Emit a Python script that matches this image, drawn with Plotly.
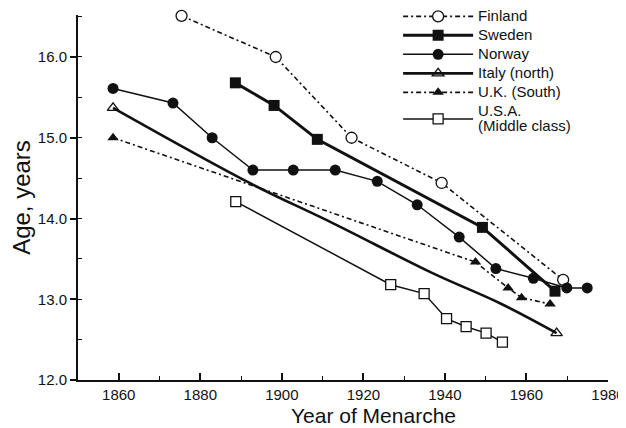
import plotly.graph_objects as go

# ---- data ----
finland_year = [1875.4, 1898.5, 1917.1, 1939.2, 1969.0]
finland_age = [16.51, 16.00, 15.00, 14.44, 13.24]

sweden_year = [1888.6, 1898.1, 1908.7, 1949.2, 1967.0]
sweden_age = [15.68, 15.40, 14.98, 13.89, 13.10]

norway_year = [1858.6, 1873.3, 1882.9, 1892.9, 1902.8, 1913.1, 1923.4,
               1933.2, 1943.5, 1952.5, 1961.7, 1969.9, 1974.9]
norway_age = [15.61, 15.43, 15.00, 14.60, 14.60, 14.60, 14.46,
              14.17, 13.77, 13.38, 13.26, 13.14, 13.14]

# Italy: trend curve; markers only at the two end observations
italy_year = [1858.6, 1892.1, 1912.6, 1937.1, 1953.5, 1967.4]
italy_age = [15.37, 14.44, 13.94, 13.32, 12.95, 12.58]
italy_marked = [True, False, False, False, False, True]

uk_year = [1858.6, 1947.5, 1955.5, 1958.8, 1965.8]
uk_age = [15.00, 13.46, 13.14, 13.02, 12.94]

usa_year = [1888.7, 1926.7, 1934.9, 1940.4, 1945.2, 1950.1, 1954.1]
usa_age = [14.21, 13.18, 13.07, 12.76, 12.66, 12.58, 12.47]

series_names = ["Finland", "Sweden", "Norway", "Italy (north)", "U.K. (South)",
                "U.S.A.<br>(Middle class)"]

x_ticks = [1860, 1880, 1900, 1920, 1940, 1960, 1980]
y_ticks = [12.0, 13.0, 14.0, 15.0, 16.0]

x_title = "Year of Menarche"
y_title = "Age, years"

FONT = "Liberation Sans, Arial, Helvetica, sans-serif"
BLACK = "#111111"


def legend_label(name):
    return "<br>".join('<span style="font-size:15px">%s</span>' % part
                       for part in name.split("<br>"))


fig = go.Figure()

fig.add_trace(go.Scatter(
    x=finland_year, y=finland_age, name=legend_label(series_names[0]),
    mode="lines+markers",
    line=dict(color=BLACK, width=1.6, dash="5px,3px,2px,3px"),
    marker=dict(symbol="circle", size=11, color="white",
                line=dict(color=BLACK, width=1.3)),
    cliponaxis=False))

fig.add_trace(go.Scatter(
    x=sweden_year, y=sweden_age, name=legend_label(series_names[1]),
    mode="lines+markers",
    line=dict(color=BLACK, width=3),
    marker=dict(symbol="square", size=11, color=BLACK),
    cliponaxis=False))

fig.add_trace(go.Scatter(
    x=norway_year, y=norway_age, name=legend_label(series_names[2]),
    mode="lines+markers",
    line=dict(color=BLACK, width=1.5),
    marker=dict(symbol="circle", size=11, color=BLACK),
    cliponaxis=False))

fig.add_trace(go.Scatter(
    x=italy_year, y=italy_age, name=legend_label(series_names[3]),
    mode="lines+markers",
    line=dict(color=BLACK, width=2.6, shape="spline", smoothing=1.0),
    marker=dict(symbol="triangle-up-open", size=10,
                color=[BLACK if m else "rgba(0,0,0,0)" for m in italy_marked],
                line=dict(width=1.4)),
    cliponaxis=False))

fig.add_trace(go.Scatter(
    x=uk_year, y=uk_age, name=legend_label(series_names[4]),
    mode="lines+markers",
    line=dict(color=BLACK, width=1.6, dash="5px,3px,2px,3px"),
    marker=dict(symbol="triangle-up", size=10, color=BLACK),
    cliponaxis=False))

fig.add_trace(go.Scatter(
    x=usa_year, y=usa_age, name=legend_label(series_names[5]),
    mode="lines+markers",
    line=dict(color=BLACK, width=1.5),
    marker=dict(symbol="square", size=10, color="white",
                line=dict(color=BLACK, width=1.3)),
    cliponaxis=False))

# the page body adds an 8px offset, so the figure is 8px smaller
fig.update_layout(
    width=618, height=420,
    margin=dict(l=70, r=18, t=7, b=48, autoexpand=False),
    paper_bgcolor="white", plot_bgcolor="white",
    font=dict(family=FONT, color=BLACK, size=15),
    showlegend=True,
    legend=dict(x=0.604, y=1.036, xanchor="left", yanchor="top",
                bgcolor="rgba(0,0,0,0)", font=dict(size=12, family=FONT),
                tracegroupgap=0, itemwidth=70),
    xaxis=dict(range=[1850, 1980], tickvals=x_ticks, ticks="inside", ticklen=7,
               tickwidth=1.5, tickcolor=BLACK, showline=True, linecolor=BLACK,
               linewidth=2, showgrid=False, zeroline=False, automargin=False,
               tickfont=dict(size=15, family=FONT),
               minor=dict(dtick=10, ticks="inside", ticklen=4, tickwidth=1.3,
                          tickcolor=BLACK, showgrid=False)),
    yaxis=dict(range=[12, 16.52], tickvals=y_ticks, tickformat=".1f",
               ticks="outside", ticklen=6, tickwidth=1.5, tickcolor=BLACK,
               showline=True, linecolor=BLACK, linewidth=2, showgrid=False,
               zeroline=False, automargin=False,
               tickfont=dict(size=15, family=FONT),
               minor=dict(dtick=0.5, ticks="inside", ticklen=4, tickwidth=1.3,
                          tickcolor=BLACK, showgrid=False),
               title=dict(text=y_title, font=dict(size=24, family=FONT),
                          standoff=1)),
    annotations=[dict(text=x_title, xref="paper", yref="paper", x=0.557, y=-0.097,
                      xanchor="center", yanchor="middle", showarrow=False,
                      font=dict(size=21, family=FONT, color=BLACK))],
)

fig.write_html("out.html")
